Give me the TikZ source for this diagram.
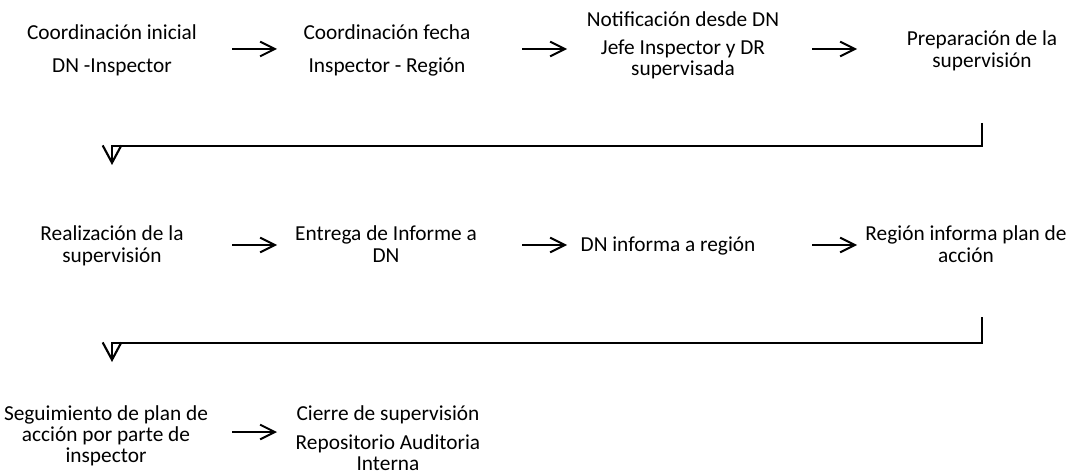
\documentclass[tikz,border=0pt]{standalone}
\usepackage{fontspec}
\newfontfamily\stepfont{Carlito}
\usetikzlibrary{arrows.meta}

\begin{document}
\begin{tikzpicture}[x=0.75pt,y=-0.75pt,
    step text/.style={anchor=base,inner sep=0pt,font=\stepfont\fontsize{16}{16}\selectfont},
    flow/.style={line width=1.5pt,-{Straight Barb[length=11pt,width=11pt]}},
    bend flow/.style={line width=1.6pt,-{Straight Barb[length=13pt,width=14pt]}}]
    \useasboundingbox (0,0) rectangle (1086,474);
    % first row
    \node[step text] (S-1) at (112,40) {\begin{tabular}[t]{@{}c@{}}Coordinación inicial\\[8.75pt] DN -Inspector\end{tabular}};
    \node[step text] (S-2) at (387,40) {\begin{tabular}[t]{@{}c@{}}Coordinación fecha\\[8.75pt] Inspector - Región\end{tabular}};
    \node[step text] (S-3) at (683,27) {\begin{tabular}[t]{@{}c@{}}Notificación desde DN\\[4.5pt] Jefe Inspector y DR\\ supervisada\end{tabular}};
    \node[step text] (S-4) at (982,46) {\begin{tabular}[t]{@{}c@{}}Preparación de la\\ supervisión\end{tabular}};
    % second row
    \node[step text] (S-5) at (112,241) {\begin{tabular}[t]{@{}c@{}}Realización de la\\ supervisión\end{tabular}};
    \node[step text] (S-6) at (386,241) {\begin{tabular}[t]{@{}c@{}}Entrega de Informe a\\ DN\end{tabular}};
    \node[step text] (S-7) at (668,252) {DN informa a región};
    \node[step text] (S-8) at (966,241) {\begin{tabular}[t]{@{}c@{}}Región informa plan de\\ acción\end{tabular}};
    % third row
    \node[step text] (S-9) at (106,420) {\begin{tabular}[t]{@{}c@{}}Seguimiento de plan de\\ acción por parte de\\ inspector\end{tabular}};
    \node[step text] (S-10) at (388,420) {\begin{tabular}[t]{@{}c@{}}Cierre de supervisión\\[6pt] Repositorio Auditoria\\ Interna\end{tabular}};
    % arrows between the steps
    \foreach \R/\H in {1/49,2/245}
     {\foreach \X [count=\Y] in {232,522,812}
       {\coordinate (A-\R-\Y) at (\X,\H);
        \coordinate (B-\R-\Y) at (\X+45,\H);
        \draw[flow] (A-\R-\Y) -- (B-\R-\Y);}}
    \coordinate (A-3-1) at (232,432);
    \coordinate (B-3-1) at (277,432);
    \draw[flow] (A-3-1) -- (B-3-1);
    % going down to the next row
    \foreach \T/\M [count=\Y] in {123/146,317/343}
     {\coordinate (D-\Y) at (982,\T);
      \coordinate (L-\Y) at (112,\M);
      \coordinate (E-\Y) at (112,\M+19);
      \draw[bend flow] (D-\Y) |- (L-\Y) -- (E-\Y);}
\end{tikzpicture}
\end{document}
